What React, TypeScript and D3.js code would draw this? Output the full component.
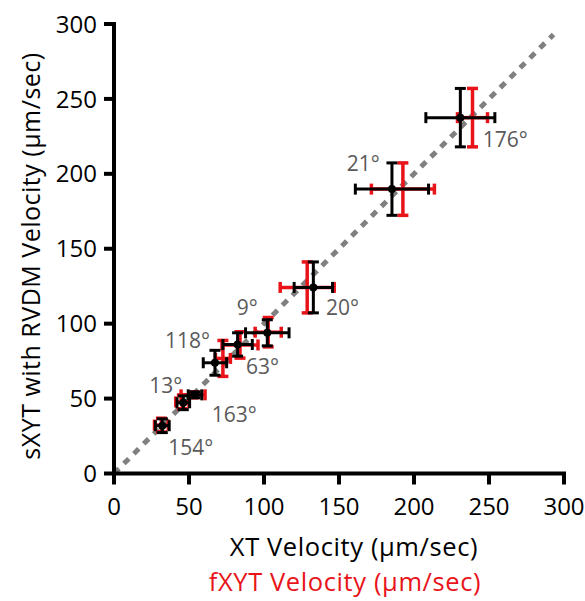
import React from "react";
import * as d3 from "d3";

// Black series: XT velocity (x) vs sXYT with RVDM velocity (y)
const xtVel = [32.2, 46.2, 54.0, 67.3, 82.4, 102.2, 132.9, 185.3, 230.9];
const xtErr = [4.6, 4.2, 4.5, 7.8, 9.8, 14.5, 12.8, 24.4, 23.0];
const sxytVel = [31.9, 47.2, 52.5, 73.9, 86.1, 93.9, 124.2, 189.8, 237.5];
const sxytErr = [4.6, 4.6, 2.0, 8.3, 7.8, 8.7, 17.0, 17.5, 19.5];

// Red series: fXYT velocity (x) vs sXYT with RVDM velocity (y)
const fxytVel = [31.6, 45.6, 52.7, 72.6, 84.0, 102.8, 128.8, 192.6, 239.0];
const fxytErr = [4.6, 4.4, 8.0, 5.0, 12.0, 8.7, 18.0, 21.0, 10.0];
const fxytY = [32.3, 47.8, 52.5, 76.8, 85.8, 94.3, 124.2, 189.8, 237.5];
const fxytYErr = [4.6, 4.6, 2.0, 12.0, 8.8, 9.8, 17.0, 17.5, 19.5];

// Angle labels, one per point
const angleLabels = ["154°", "13°", "163°", "118°", "63°", "9°", "20°", "21°", "176°"];

const xTicks = [0, 50, 100, 150, 200, 250, 300];
const yTicks = [0, 50, 100, 150, 200, 250, 300];

// layout offsets for angle labels (pixels, relative to the black point)
const labelOffsets: [number, number][] = [
  [6, 29.3],
  [-34, -9.4],
  [16.7, 26.7],
  [-50, -14.4],
  [8.3, 29.7],
  [-30.6, -17.7],
  [12.7, 27.3],
  [-45.3, -18.6],
  [22.4, 29.6],
];

const FONT = "'Open Sans', 'DejaVu Sans', sans-serif";

function ErrorCross({
  cx, cy, x0, x1, y0, y1, color, sw, cap,
}: {
  cx: number; cy: number; x0: number; x1: number; y0: number; y1: number;
  color: string; sw: number; cap: number;
}) {
  return (
    <g stroke={color} strokeWidth={sw} fill="none">
      <line x1={x0} x2={x1} y1={cy} y2={cy} />
      <line x1={x0} x2={x0} y1={cy - cap} y2={cy + cap} />
      <line x1={x1} x2={x1} y1={cy - cap} y2={cy + cap} />
      <line x1={cx} x2={cx} y1={y0} y2={y1} />
      <line x1={cx - cap} x2={cx + cap} y1={y0} y2={y0} />
      <line x1={cx - cap} x2={cx + cap} y1={y1} y2={y1} />
    </g>
  );
}

export default function App() {
  const x = d3.scaleLinear().domain([0, 300]).range([114, 564]);
  const y = d3.scaleLinear().domain([0, 300]).range([473.5, 24]);

  return (
    <svg
      width={585}
      height={601}
      style={{ position: "absolute", left: 0, top: 0, background: "#fff" }}
      fontFamily={FONT}
    >
      <rect width={585} height={601} fill="#fff" />
      {/* identity line */}
      <line
        x1={x(0)} y1={y(0)} x2={x(293)} y2={y(293)}
        stroke="#808080" strokeWidth={5} strokeDasharray="7 7"
      />

      {/* red series */}
      {fxytVel.map((v, i) => (
        <ErrorCross
          key={"r" + i}
          cx={x(v)} cy={y(fxytY[i])}
          x0={x(v - fxytErr[i])} x1={x(v + fxytErr[i])}
          y0={y(fxytY[i] + fxytYErr[i])} y1={y(fxytY[i] - fxytYErr[i])}
          color="#e8141a" sw={3.5} cap={5.5}
        />
      ))}

      {/* black series */}
      {xtVel.map((v, i) => (
        <g key={"b" + i}>
          <ErrorCross
            cx={x(v)} cy={y(sxytVel[i])}
            x0={x(v - xtErr[i])} x1={x(v + xtErr[i])}
            y0={y(sxytVel[i] + sxytErr[i])} y1={y(sxytVel[i] - sxytErr[i])}
            color="#000" sw={3} cap={5.5}
          />
          <circle cx={x(v)} cy={y(sxytVel[i])} r={4} fill="#000" />
        </g>
      ))}

      {/* angle labels */}
      {angleLabels.map((t, i) => (
        <text
          key={"l" + i}
          x={x(xtVel[i]) + labelOffsets[i][0]}
          y={y(sxytVel[i]) + labelOffsets[i][1]}
          fontSize={21}
          fill="#5a5a5a"
        >
          {t}
        </text>
      ))}

      {/* axes */}
      <line x1={x(0)} x2={x(0)} y1={y(300) - 2} y2={y(0) + 2} stroke="#000" strokeWidth={4} />
      <line x1={x(0) - 2} x2={x(300) + 2} y1={y(0)} y2={y(0)} stroke="#000" strokeWidth={4} />
      {yTicks.map((t) => (
        <g key={"yt" + t}>
          <line x1={x(0) - 10} x2={x(0)} y1={y(t)} y2={y(t)} stroke="#000" strokeWidth={4} />
          <text x={97} y={y(t)} dy="0.36em" textAnchor="end" fontSize={24} fill="#000">
            {t}
          </text>
        </g>
      ))}
      {xTicks.map((t) => (
        <g key={"xt" + t}>
          <line x1={x(t)} x2={x(t)} y1={y(0)} y2={y(0) + 11} stroke="#000" strokeWidth={4} />
          <text x={x(t)} y={515} textAnchor="middle" fontSize={24} fill="#000">
            {t}
          </text>
        </g>
      ))}

      {/* axis titles */}
      <text x={354} y={556} textAnchor="middle" fontSize={25.5} letterSpacing={0.6} fill="#000">
        XT Velocity (µm/sec)
      </text>
      <text x={345} y={591} textAnchor="middle" fontSize={25.5} letterSpacing={0.6} fill="#e8141a">
        fXYT Velocity (µm/sec)
      </text>
      <text
        transform="translate(40,256) rotate(-90)"
        textAnchor="middle"
        fontSize={25}
        letterSpacing={0.5}
        fill="#000"
      >
        sXYT with RVDM Velocity (µm/sec)
      </text>
    </svg>
  );
}
